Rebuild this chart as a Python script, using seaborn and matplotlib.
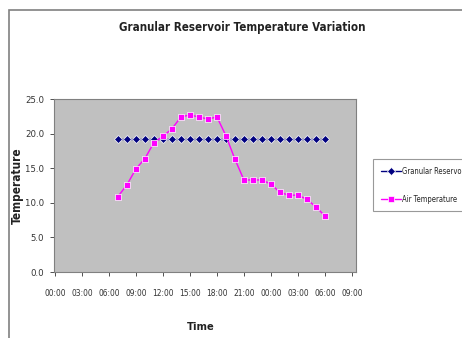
import matplotlib
matplotlib.use("Agg")
import matplotlib.pyplot as plt
from matplotlib.patches import Rectangle
from matplotlib.ticker import FixedLocator
import seaborn as sns
import pandas as pd

# Hourly readings, 07:00 on day one through 06:00 on day two (hours since midnight)
hours = list(range(7, 31))
reservoir_temp = [19.2] * 24
air_temp = [10.9, 12.6, 14.9, 16.4, 18.7, 19.6, 20.7, 22.4, 22.7, 22.4, 22.1, 22.4,
            19.7, 16.3, 13.3, 13.3, 13.3, 12.7, 11.5, 11.1, 11.1, 10.5, 9.4, 8.1]
series_names = ["Granular Reservoir", "Air Temperature"]
x_tick_hours = list(range(0, 34, 3))
x_tick_labels = [f"{h % 24:02d}:00" for h in x_tick_hours]
y_ticks = [0, 5, 10, 15, 20, 25]

df = pd.DataFrame({
    "Time": hours * 2,
    "Temperature": reservoir_temp + air_temp,
    "Series": [series_names[0]] * len(hours) + [series_names[1]] * len(hours),
})

sns.set_theme(style="white")
plt.rcParams["font.family"] = ["DejaVu Sans"]
plt.rcParams["font.stretch"] = "condensed"

fig = plt.figure(figsize=(4.62, 3.38), dpi=100)
ax = fig.add_axes([54 / 462, 66 / 338, 302 / 462, 173 / 338])

sns.lineplot(
    data=df, x="Time", y="Temperature", hue="Series", style="Series",
    palette={series_names[0]: "#000080", series_names[1]: "#ff00ff"},
    markers={series_names[0]: "D", series_names[1]: "s"},
    dashes=False, markersize=4.3, linewidth=1.0, markeredgewidth=0.5,
    ax=ax, legend=True,
)

ax.set_facecolor("#c0c0c0")
for side, sp in ax.spines.items():
    sp.set_color("#808080")
    sp.set_linewidth(0.8)

ax.set_xlim(-0.1, 33.45)
ax.set_ylim(0, 25)
ax.xaxis.set_major_locator(FixedLocator(x_tick_hours))
ax.set_xticklabels(x_tick_labels)
ax.set_yticks(y_ticks)
ax.set_yticklabels([f"{v:.1f}" for v in y_ticks])
ax.tick_params(axis="both", colors="#333333", length=3, width=0.6,
               direction="out", left=True, bottom=True)
ax.tick_params(axis="x", labelsize=6.0, pad=9.5)
ax.tick_params(axis="y", labelsize=6.8, pad=4)

ax.set_xlabel("Time", fontsize=8, fontweight="bold", color="#222222")
ax.xaxis.set_label_coords(0.485, -0.29)
ax.set_ylabel("Temperature", fontsize=8.5, fontweight="bold", color="#222222")
ax.yaxis.set_label_coords(-0.10, 0.5)

fig.text(242 / 462, 1 - 27 / 338, "Granular Reservoir Temperature Variation",
         ha="center", va="center", fontsize=8.3, fontweight="bold", color="#222222")

# Chart-area frame
fig.patches.append(Rectangle((9 / 462, -0.1), 1.0, 1 - 10 / 338 + 0.1,
                             transform=fig.transFigure, fill=False,
                             edgecolor="#808080", linewidth=1.2))

handles, labels = ax.get_legend_handles_labels()
ax.get_legend().remove()
leg = fig.legend(handles, labels, loc="upper left",
                 bbox_to_anchor=(373 / 462, 1 - 159 / 338),
                 fontsize=5.5, frameon=True, fancybox=False,
                 handlelength=2.6, handletextpad=0.2, borderpad=1.0,
                 labelspacing=2.5, borderaxespad=0)
leg.get_frame().set_edgecolor("#808080")
leg.get_frame().set_linewidth(0.8)

fig.savefig("out.png", dpi=100)
